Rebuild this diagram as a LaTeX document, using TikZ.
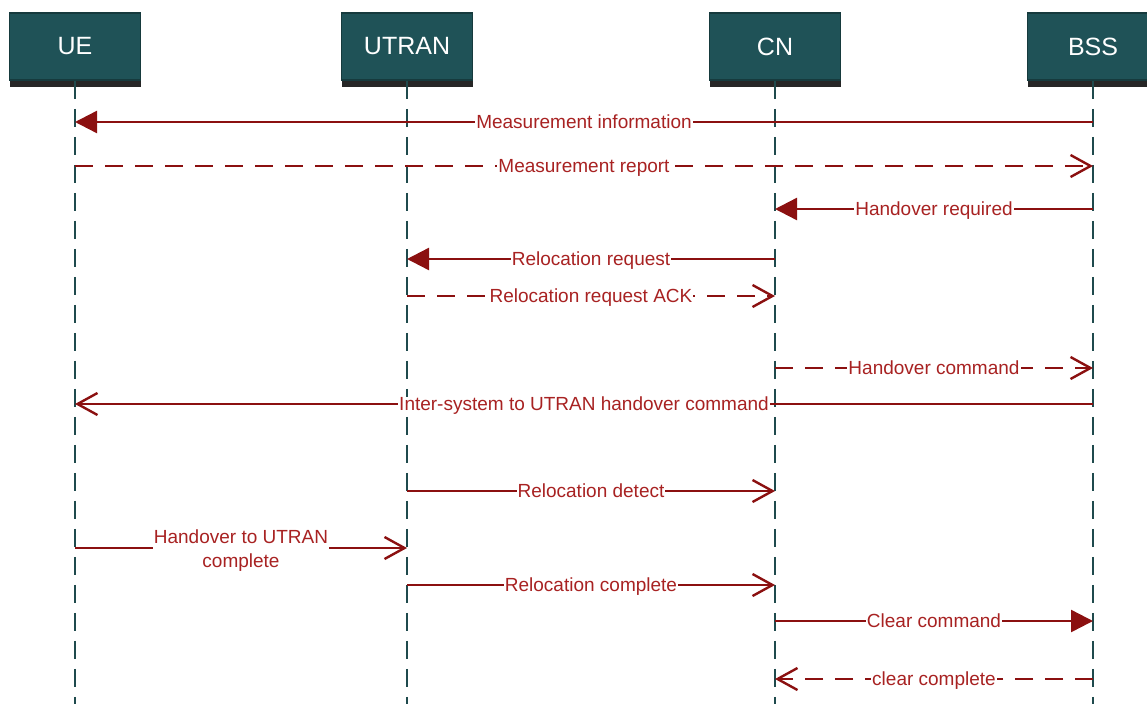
\documentclass[tikz,border=0pt]{standalone}
\usepackage{fontspec}
\setmainfont{Liberation Sans}
\usetikzlibrary{arrows.meta,shadows}
\definecolor{hdrfill}{RGB}{31,82,87}
\definecolor{hdrborder}{RGB}{22,58,61}
\definecolor{shadowc}{RGB}{38,38,38}
\definecolor{lifec}{RGB}{31,74,77}
\definecolor{msgc}{RGB}{139,16,16}
\definecolor{lblc}{RGB}{168,34,34}
\newcommand{\hdrfont}{\fontsize{25}{30}\selectfont}
\newcommand{\lblfont}{\fontsize{19}{24}\selectfont}
\begin{document}
\begin{tikzpicture}[x=1pt,y=-1pt,
  hdr/.style={draw=hdrborder, line width=1.5pt, fill=hdrfill, text=white,
    minimum width=131pt, minimum height=67pt, inner sep=0pt, font=\hdrfont,
    drop shadow={shadow xshift=0.5pt, shadow yshift=-7pt, fill=shadowc, opacity=1}},
  life/.style={draw=lifec, line width=2.8pt, dash pattern=on 18pt off 10pt},
  msg/.style={draw=msgc, line width=2.4pt},
  dmsg/.style={msg, dash pattern=on 18pt off 12pt},
  fill tip/.style={-{Triangle[length=22pt,width=22pt]}},
  open tip/.style={-{Straight Barb[length=20pt,width=22pt]}},
  lbl/.style={fill=white, text=lblc, font=\lblfont, inner xsep=1pt, inner ysep=0pt,
    text height=14pt, text depth=0.5pt},
  lbl2/.style={fill=white, text=lblc, font=\lblfont, inner xsep=1pt, inner ysep=0pt,
    align=center, yshift=-3pt}
]
\useasboundingbox (0,0) rectangle (1147,704);
% headers
\node[hdr] (ue) at (75,46.5) {UE};
\node[hdr] (utran) at (407,46.5) {UTRAN};
\node[hdr] (cn) at (775,46.5) {CN};
\node[hdr] (bss) at (1093,46.5) {BSS};
% lifeline ends
\coordinate (ueb) at (75,704);
\coordinate (utranb) at (407,704);
\coordinate (cnb) at (775,704);
\coordinate (bssb) at (1093,704);
\draw[life] (ue.south) -- (ueb);
\draw[life] (utran.south) -- (utranb);
\draw[life] (cn.south) -- (cnb);
\draw[life] (bss.south) -- (bssb);
% messages
\draw[msg, fill tip] (bss |- 0,122) -- node[lbl]{Measurement information} (ue |- 0,122);
\draw[dmsg, open tip] (ue |- 0,166) -- node[lbl]{Measurement report} (bss |- 0,166);
\draw[msg, fill tip] (bss |- 0,209) -- node[lbl]{Handover required} (cn |- 0,209);
\draw[msg, fill tip] (cn |- 0,259) -- node[lbl]{Relocation request} (utran |- 0,259);
\draw[dmsg, open tip] (utran |- 0,296) -- node[lbl]{Relocation request ACK} (cn |- 0,296);
\draw[dmsg, open tip] (cn |- 0,368) -- node[lbl]{Handover command} (bss |- 0,368);
\draw[msg, open tip] (bss |- 0,404) -- node[lbl]{Inter-system to UTRAN handover command} (ue |- 0,404);
\draw[msg, open tip] (utran |- 0,491) -- node[lbl]{Relocation detect} (cn |- 0,491);
\draw[msg, open tip] (ue |- 0,548) -- node[lbl2]{Handover to UTRAN\\complete} (utran |- 0,548);
\draw[msg, open tip] (utran |- 0,585) -- node[lbl]{Relocation complete} (cn |- 0,585);
\draw[msg, fill tip] (cn |- 0,621) -- node[lbl]{Clear command} (bss |- 0,621);
\draw[dmsg, open tip] (bss |- 0,679) -- node[lbl]{clear complete} (cn |- 0,679);
\end{tikzpicture}
\end{document}
